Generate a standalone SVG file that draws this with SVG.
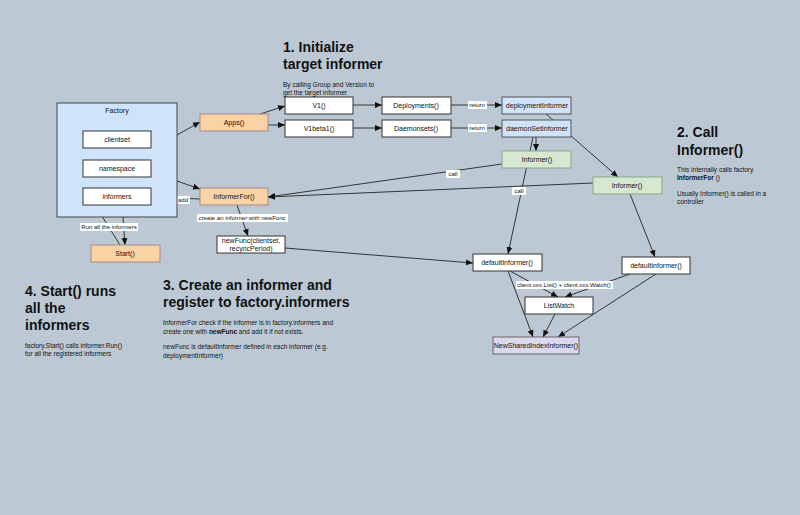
<svg xmlns="http://www.w3.org/2000/svg" width="800" height="515" viewBox="0 0 800 515">
<style>
text{font-family:"Liberation Sans",Arial,sans-serif;fill:#111}
.n{fill:#fff;stroke:#333;stroke-width:1}
.t{font-size:7px;text-anchor:middle}
.h{font-size:14px;font-weight:bold}
.p{font-size:6.5px}
.e{stroke:#222;stroke-width:0.9;fill:none;marker-end:url(#a)}
.l{font-size:6px;text-anchor:middle}
.lb{fill:#fff}
</style>
<defs><marker id="a" markerWidth="8" markerHeight="8" refX="7" refY="4" orient="auto" markerUnits="userSpaceOnUse"><path d="M0,1 L7,4 L0,7 Z" fill="#111"/></marker></defs>
<rect width="800" height="515" fill="#bcc9d4"/>
<g id="connectors">
<path class="e" d="M177,135 L200,122"/>
<path class="e" d="M260,114 L285,106"/>
<path class="e" d="M268,125 L285,125"/>
<path class="e" d="M353,105 L382,105"/>
<path class="e" d="M353,128 L382,128"/>
<path class="e" d="M451,105 L502,105"/>
<path class="e" d="M451,128 L502,128"/>
<path class="e" d="M546,114 L618,177"/>
<path class="e" d="M536,137 L536,151"/>
<path class="e" d="M533,137 L508,254"/>
<path class="e" d="M502,164 L268,197"/>
<path class="e" d="M593,183 L268,197"/>
<path class="e" d="M630,194 L655,257"/>
<path class="e" d="M200,199 L151,197"/>
<path class="e" d="M177,181 L200,189"/>
<path class="e" d="M237,205 L248,236"/>
<path class="e" d="M285,248 L473,263"/>
<path class="e" d="M123,217 L125,245"/>
<path class="e" d="M120,245 L97,208"/>
<path class="e" d="M508,271 L533,337"/>
<path class="e" d="M510,271 L558,297"/>
<path class="e" d="M630,274 L565,297"/>
<path class="e" d="M555,314 L543,337"/>
<path class="e" d="M656,274 L558,337"/>
<rect class="lb" x="468" y="101" width="19" height="8"/><text class="l" x="477" y="107">return</text>
<rect class="lb" x="468" y="124" width="19" height="8"/><text class="l" x="477" y="130">return</text>
<rect class="lb" x="446" y="170" width="14" height="8"/><text class="l" x="453" y="176">call</text>
<rect class="lb" x="512" y="187" width="14" height="8"/><text class="l" x="519" y="193">call</text>
<rect class="lb" x="176" y="196" width="14" height="8"/><text class="l" x="183" y="202">add</text>
<rect class="lb" x="197" y="214" width="91" height="8"/><text class="l" x="242" y="220">create an informer with newFunc</text>
<rect class="lb" x="80" y="223" width="58" height="8"/><text class="l" x="109" y="229">Run all the informers</text>
<rect class="lb" x="516" y="281" width="97" height="8"/><text class="l" x="564" y="287">client.xxx.List() + client.xxx.Watch()</text>
</g>
<g id="factory"><rect x="57" y="103" width="120" height="114" fill="#cfe4fa" stroke="#444"/><text class="t" x="117" y="113">Factory</text></g>
<g id="clientset"><rect class="n" x="83" y="131" width="68" height="17"/><text class="t" x="117" y="142">clientset</text></g>
<g id="namespace"><rect class="n" x="83" y="160" width="68" height="17"/><text class="t" x="117" y="171">namespace</text></g>
<g id="informers"><rect class="n" x="83" y="188" width="68" height="17"/><text class="t" x="117" y="199">informers</text></g>
<g id="apps"><rect x="200" y="114" width="68" height="17" fill="#f9d3a5" stroke="#a88"/><text class="t" x="234" y="125">Apps()</text></g>
<g id="informerfor"><rect x="200" y="188" width="68" height="17" fill="#f9d3a5" stroke="#a88"/><text class="t" x="234" y="199">InformerFor()</text></g>
<g id="start"><rect x="91" y="245" width="69" height="17" fill="#f9d3a5" stroke="#a88"/><text class="t" x="125" y="256">Start()</text></g>
<g id="newfunc"><rect class="n" x="217" y="236" width="68" height="17"/><text class="t" x="251" y="243">newFunc(clientset,</text><text class="t" x="251" y="251">recyncPeriod)</text></g>
<g id="v1"><rect class="n" x="285" y="97" width="68" height="17"/><text class="t" x="319" y="108">V1()</text></g>
<g id="v1beta1"><rect class="n" x="285" y="120" width="68" height="17"/><text class="t" x="319" y="131">V1beta1()</text></g>
<g id="deployments"><rect class="n" x="382" y="97" width="69" height="17"/><text class="t" x="416" y="108">Deployments()</text></g>
<g id="daemonsets"><rect class="n" x="382" y="120" width="69" height="17"/><text class="t" x="416" y="131">Daemonsets()</text></g>
<g id="deploymentInformer"><rect x="502" y="97" width="69" height="17" fill="#cfe4fa" stroke="#555"/><text class="t" x="537" y="108">deploymentInformer</text></g>
<g id="daemonSetInformer"><rect x="502" y="120" width="69" height="17" fill="#cfe4fa" stroke="#555"/><text class="t" x="537" y="131">daemonSetInformer</text></g>
<g id="informer1"><rect x="502" y="151" width="69" height="17" fill="#d7e8d0" stroke="#8a8"/><text class="t" x="537" y="162">Informer()</text></g>
<g id="informer2"><rect x="593" y="177" width="69" height="17" fill="#d7e8d0" stroke="#8a8"/><text class="t" x="627" y="188">Informer()</text></g>
<g id="default1"><rect class="n" x="473" y="254" width="69" height="17"/><text class="t" x="507" y="265">defaultInformer()</text></g>
<g id="default2"><rect class="n" x="622" y="257" width="68" height="17"/><text class="t" x="656" y="268">defaultInformer()</text></g>
<g id="listwatch"><rect class="n" x="525" y="297" width="68" height="17"/><text class="t" x="559" y="308">ListWatch</text></g>
<g id="newshared"><rect x="493" y="337" width="86" height="17" fill="#dcd8ee" stroke="#666"/><text class="t" x="536" y="348">NewSharedIndexInformer()</text></g>
<g id="notes">
<text class="h" x="283" y="52" font-size="16">1. Initialize</text><text class="h" x="283" y="69" font-size="16">target informer</text>
<text class="p" x="283" y="87">By calling Group and Version to</text><text class="p" x="283" y="95">get the target informer</text>
<text class="h" x="677" y="137" font-size="16">2. Call</text><text class="h" x="677" y="155" font-size="16">Informer()</text>
<text class="p" x="677" y="172">This internally calls factory.</text><text class="p" x="677" y="180" font-weight="bold">InformerFor <tspan font-weight="normal">()</tspan></text>
<text class="p" x="677" y="196">Usually Informer() is called in a</text><text class="p" x="677" y="204">controller</text>
<text class="h" x="25" y="296">4. Start() runs</text><text class="h" x="25" y="313">all the</text><text class="h" x="25" y="330">informers</text>
<text class="p" x="25" y="348">factory.Start() calls informer.Run()</text><text class="p" x="25" y="356">for all the registered informers</text>
<text class="h" x="163" y="290" font-size="13.3">3. Create an informer and</text><text class="h" x="163" y="307" font-size="13.3">register to factory.informers</text>
<text class="p" x="163" y="325">InformerFor check if the informer is in factory.informers and</text>
<text class="p" x="163" y="334">create one with <tspan font-weight="bold">newFunc</tspan> and add it if not exists.</text>
<text class="p" x="163" y="349">newFunc is defaultInformer defined in each informer (e.g.</text>
<text class="p" x="163" y="358">deploymentInformer)</text>
</g>
</svg>
